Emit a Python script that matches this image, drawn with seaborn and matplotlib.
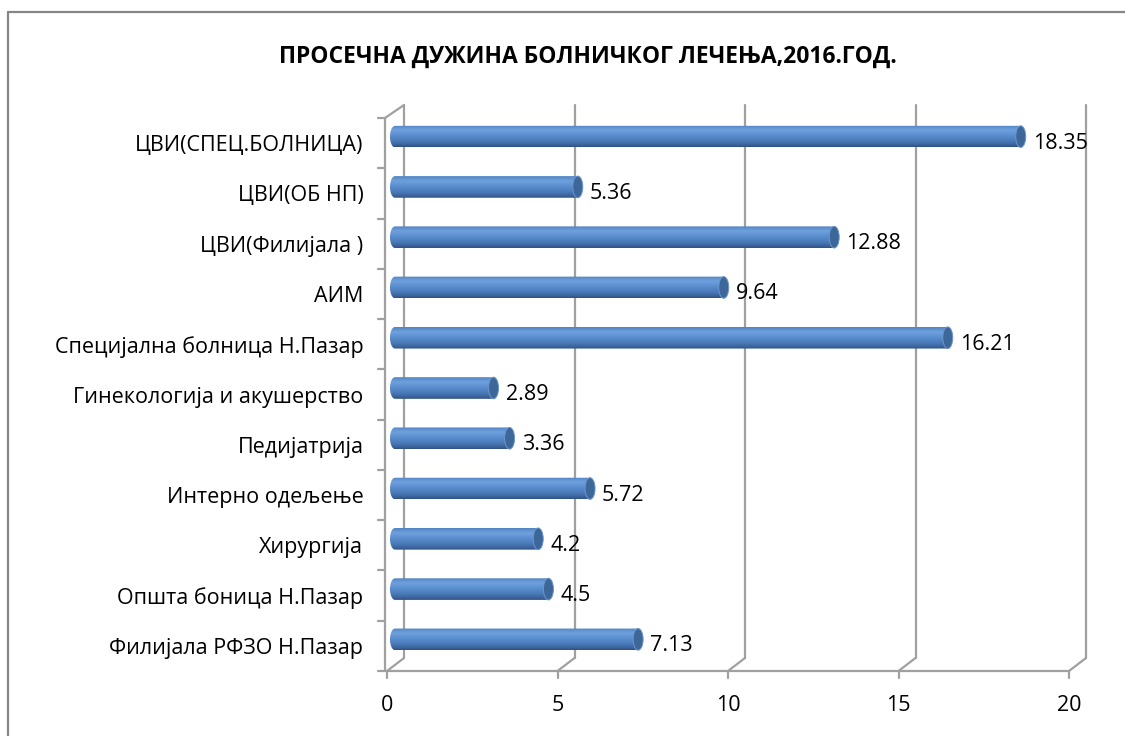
import numpy as np
import pandas as pd
import seaborn as sns
import matplotlib.pyplot as plt
import matplotlib.transforms as mtransforms
from matplotlib.colors import LinearSegmentedColormap
from matplotlib.patches import Ellipse, PathPatch
from matplotlib.path import Path
from matplotlib.lines import Line2D

title = "ПРОСЕЧНА ДУЖИНА БОЛНИЧКОГ ЛЕЧЕЊА,2016.ГОД."
categories = [
    "ЦВИ(СПЕЦ.БОЛНИЦА)",
    "ЦВИ(ОБ НП)",
    "ЦВИ(Филијала )",
    "АИМ",
    "Специјална болница Н.Пазар",
    "Гинекологија и акушерство",
    "Педијатрија",
    "Интерно одељење",
    "Хирургија",
    "Општа боница Н.Пазар",
    "Филијала РФЗО Н.Пазар",
]
values = [18.35, 5.36, 12.88, 9.64, 16.21, 2.89, 3.36, 5.72, 4.2, 4.5, 7.13]
value_labels = ["18.35", "5.36", "12.88", "9.64", "16.21", "2.89", "3.36", "5.72", "4.2", "4.5", "7.13"]
xticks = [0, 5, 10, 15, 20]

sns.set_theme(style="white")
plt.rcParams["font.family"] = ["Open Sans", "DejaVu Sans"]

W, H = 1125, 736
DPI = 100
fig = plt.figure(figsize=(W / DPI, H / DPI), dpi=DPI)

# outer chart border (only left and top edges are visible)
bcol = "#868686"
fig.add_artist(Line2D([8 / W, 8 / W], [0, 1 - 12 / H], transform=fig.transFigure, color=bcol, lw=1.6))
fig.add_artist(Line2D([8 / W, 1], [1 - 12 / H, 1 - 12 / H], transform=fig.transFigure, color=bcol, lw=1.6))

# front plane of the plot area
ax = fig.add_axes([387 / W, 1 - 671 / H, (1069 - 387) / W, (671 - 118) / H])
df = pd.DataFrame({"cat": categories, "val": values})
sns.barplot(data=df, x="val", y="cat", orient="h", ax=ax, width=0.43, color="#4F81BD")
ax.set_xlim(0, 20)
ax.set_ylim(len(categories) - 0.5, -0.5)
for s in ax.spines.values():
    s.set_visible(False)
ax.set_xlabel("")
ax.set_ylabel("")
FS = 15.5
ax.set_xticks(xticks)
ax.set_xticklabels([str(t) for t in xticks], fontsize=FS, color="black")
ax.tick_params(axis="x", length=0, pad=17)
ax.tick_params(axis="y", length=0, pad=17, labelsize=FS, labelcolor="black")
ax.patch.set_alpha(0)

def off(dx, dy):
    return ax.transData + mtransforms.ScaledTranslation(dx / DPI, dy / DPI, fig.dpi_scale_trans)

back = off(17, 13)
mid = off(8, 6.5)
gcol = "#A0A0A0"
lw = 1.6
ymin, ymax = len(categories) - 0.5, -0.5

# back wall gridlines, floor diagonals and bottom ticks
for v in xticks:
    ax.add_line(Line2D([v, v], [ymin, ymax], transform=back, color=gcol, lw=lw, zorder=1, clip_on=False))
    x0, y0 = ax.transData.transform((v, ymin))
    x1, y1 = back.transform((v, ymin))
    fig.add_artist(Line2D([x0 / W, x1 / W], [y0 / H, y1 / H], transform=fig.transFigure, color=gcol, lw=lw))
    fig.add_artist(Line2D([x0 / W, x0 / W], [y0 / H, (y0 - 7) / H], transform=fig.transFigure, color=gcol, lw=lw))

# front floor edge
ax.add_line(Line2D([0, 20], [ymin, ymin], transform=ax.transData, color=gcol, lw=lw, clip_on=False, zorder=1))
# left wall front edge and ticks
ax.add_line(Line2D([0, 0], [ymin, ymax], transform=off(-2, 0), color=gcol, lw=lw, clip_on=False, zorder=1))
for b in np.arange(-0.5, len(categories), 1.0):
    xa, ya = ax.transData.transform((0, b))
    xa -= 2
    fig.add_artist(Line2D([(xa - 7) / W, xa / W], [ya / H, ya / H], transform=fig.transFigure, color=gcol, lw=lw))
xa, ya = ax.transData.transform((0, ymax))
xb, yb = back.transform((0, ymax))
fig.add_artist(Line2D([(xa - 2) / W, xb / W], [ya / H, yb / H], transform=fig.transFigure, color=gcol, lw=lw))

# cylinder bars
cmap = LinearSegmentedColormap.from_list("cyl", [
    (0.0, "#5184C4"), (0.22, "#70A1DE"), (0.45, "#5C8FD0"),
    (0.75, "#4878B6"), (0.93, "#385F96"), (1.0, "#2E5181")])
grad = np.linspace(0, 1, 64).reshape(-1, 1)
px_per_unit = ax.bbox.width / 20.0
cap_w = 10 / px_per_unit
for p in list(ax.patches):
    x0 = p.get_x(); w = p.get_width(); y0 = p.get_y(); h = p.get_height()
    p.set_visible(False)
    yc = y0 + h / 2
    t = np.linspace(np.pi / 2, 3 * np.pi / 2, 30)
    ex = x0 + (cap_w / 2) * np.cos(t)
    ey = yc - (h / 2) * np.sin(t)
    verts = list(zip(ex, ey)) + [(x0 + w, y0 + h), (x0 + w, y0), (ex[0], ey[0])]
    path = Path(verts, closed=False)
    clip = PathPatch(path, transform=mid, facecolor="none", edgecolor="none")
    ax.add_patch(clip)
    im = ax.imshow(grad, cmap=cmap, aspect="auto", extent=[x0 - cap_w, x0 + w, y0 + h, y0],
                   transform=mid, zorder=3, interpolation="bilinear")
    im.set_clip_path(clip)
    cap = Ellipse((x0 + w, yc), cap_w, h, transform=mid, facecolor="#3D6799",
                  edgecolor="#6B96CC", lw=0.7, zorder=4)
    ax.add_patch(cap)
ax.set_xlim(0, 20)
ax.set_ylim(ymin, ymax)

# data labels
lab_tr = off(20, 0)
for i, (v, s) in enumerate(zip(values, value_labels)):
    ax.text(v, i, s, transform=lab_tr, ha="left", va="center", fontsize=FS, color="black", zorder=5)

fig.text(588 / W, 1 - 57 / H, title, ha="center", va="center", fontsize=16.5, fontweight="bold", color="black")

fig.savefig("out.png", dpi=DPI)
